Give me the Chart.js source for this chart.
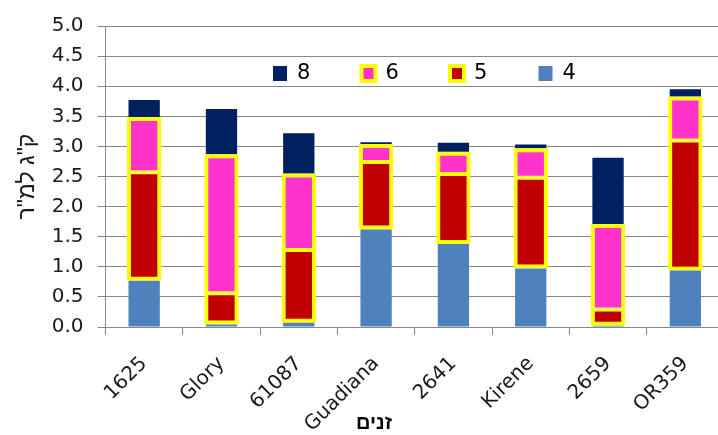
<!DOCTYPE html>
<html><head><meta charset="utf-8">
<script src="https://cdn.jsdelivr.net/npm/chart.js@4.4.0/dist/chart.umd.min.js"></script>
<style>
html,body{margin:0;padding:0;background:#fff;overflow:hidden;width:718px;height:435px}
#wrap{width:724px;height:435px;position:relative}
</style>
</head><body><div id="wrap"><canvas id="c"></canvas></div>
<script>
const categories = ['1625','Glory','61087','Guadiana','2641','Kirene','2659','OR359'];
const seriesNames = ['4','5','6','8'];
const s4 = [0.77,0.04,0.07,1.62,1.38,0.97,0.02,0.94];
const s5 = [1.80,0.52,1.21,1.12,1.16,1.51,0.27,2.16];
const s6 = [0.92,2.31,1.27,0.30,0.37,0.49,1.42,0.73];
const s8 = [0.28,0.75,0.67,0.03,0.15,0.06,1.10,0.12];
const yTitle = 'ק"ג למ"ר';
const xTitle = 'זנים';

const TXT = '#1a1a1a';
const GRID = '#888888';
const FONT = 'DejaVu Sans';
const HEB = 'Liberation Sans';

const legendPlugin = {
  id: 'customLegend',
  afterDraw(chart) {
    const ctx = chart.ctx;
    const ds = chart.data.datasets.slice().reverse();
    let x = 273;
    ctx.save();
    ds.forEach(d => {
      ctx.fillStyle = d.backgroundColor;
      ctx.fillRect(x, 66, 14, 15);
      if (d.borderColor) {
        ctx.strokeStyle = d.borderColor;
        ctx.lineWidth = 4;
        ctx.strokeRect(x, 66, 14, 15);
      }
      ctx.fillStyle = '#000';
      ctx.font = '21px "' + FONT + '"';
      ctx.textBaseline = 'middle';
      ctx.textAlign = 'left';
      ctx.fillText(d.label, x + 24, 74);
      x += 88.5;
    });
    ctx.font = 'bold 20px "' + HEB + '"';
    ctx.textAlign = 'center';
    ctx.textBaseline = 'middle';
    ctx.fillStyle = '#000';
    ctx.fillText(xTitle, 374, 423);
    ctx.restore();
  }
};

new Chart(document.getElementById('c'), {
  type: 'bar',
  data: {
    labels: categories,
    datasets: [
      {label: seriesNames[0], data: s4, backgroundColor: '#4F81BD', borderWidth: 0, barPercentage: 0.405, categoryPercentage: 1},
      {label: seriesNames[1], data: s5, backgroundColor: '#C00000', borderColor: '#FFFF00', borderWidth: {top: 2, bottom: 4, left: 4, right: 4}, borderSkipped: false, barPercentage: 0.445, categoryPercentage: 1},
      {label: seriesNames[2], data: s6, backgroundColor: '#FF33CC', borderColor: '#FFFF00', borderWidth: {top: 4, bottom: 2, left: 4, right: 4}, borderSkipped: false, barPercentage: 0.445, categoryPercentage: 1},
      {label: seriesNames[3], data: s8, backgroundColor: '#002060', borderWidth: 0, barPercentage: 0.405, categoryPercentage: 1}
    ]
  },
  options: {
    responsive: true,
    maintainAspectRatio: false,
    animation: false,
    devicePixelRatio: 1,
    layout: {padding: {top: 11, left: 0, right: 0, bottom: 0}},
    plugins: {legend: {display: false}, tooltip: {enabled: false}},
    scales: {
      x: {
        stacked: true,
        grid: {drawOnChartArea: false, drawTicks: true, tickLength: 8, color: GRID, offset: true},
        border: {color: GRID},
        ticks: {color: TXT, font: {family: FONT, size: 20}, minRotation: 45, maxRotation: 45, padding: 17, autoSkip: false},
        afterFit(s) { s.height = 108; }
      },
      y: {
        stacked: true,
        min: 0, max: 5,
        ticks: {stepSize: 0.5, color: TXT, font: {family: FONT, size: 20}, padding: 14, callback: v => Number(v).toFixed(1)},
        grid: {color: GRID, tickLength: 8, drawTicks: true},
        border: {color: GRID},
        title: {display: true, text: yTitle, color: TXT, font: {family: HEB, size: 23}, padding: {top: 14, bottom: 0}},
        afterFit(s) { s.width = 105.5; }
      }
    }
  },
  plugins: [legendPlugin]
});
</script>
</body></html>
